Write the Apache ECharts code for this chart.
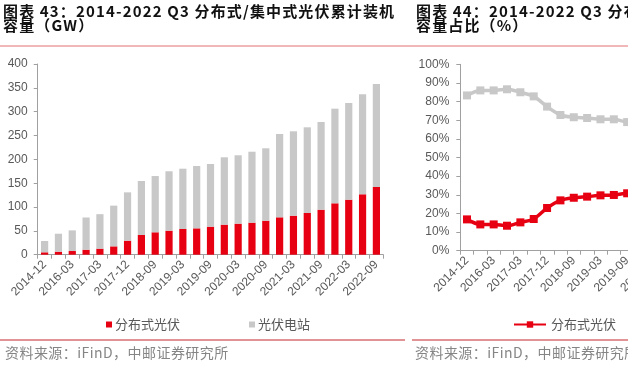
<!DOCTYPE html>
<html><head><meta charset="utf-8">
<script src="https://cdn.jsdelivr.net/npm/echarts@6/dist/echarts.min.js"></script>
<style>html,body{margin:0;padding:0;background:#fff}#c{width:628px;height:368px}</style>
</head><body><div id="c"></div>
<script>
var categories = ['2014-12','2015-12','2016-03','2016-12','2017-03','2017-06','2017-12','2018-06','2018-09','2018-12','2019-03','2019-06','2019-09','2019-12','2020-03','2020-06','2020-09','2020-12','2021-03','2021-06','2021-09','2021-12','2022-03','2022-06','2022-09'];
var distributedGW = [5, 6.3, 7.7, 10.5, 12.7, 17.5, 29.4, 41.3, 47, 50.4, 53.9, 55.3, 58.8, 63, 65.1, 67.2, 71.3, 78.4, 81.8, 87.5, 94.4, 107.8, 115.4, 126.7, 142];
var stationGW = [23.7, 37.7, 43.3, 67.5, 72.3, 85.4, 101.4, 113.3, 118, 124.6, 126.5, 130.7, 131.5, 141.3, 143.4, 148.8, 151.9, 174.8, 177, 179.7, 184, 198.5, 202.8, 209.8, 216];
var distributedPct = [16.8, 14.1, 14.1, 13.4, 15.2, 17, 22.9, 27, 28.4, 29, 29.7, 29.9, 30.8, 30.8, 31.2, 31.1, 31.9, 31, 31.6, 32.7, 33.9, 35.2, 36.3, 37.7, 39.7];
var stationPct = [83.3, 86, 86, 86.6, 85, 82.8, 77.3, 72.8, 71.6, 71.2, 70.5, 70.5, 69, 69.2, 68.8, 68.9, 68.1, 69, 68.4, 67.3, 66.1, 64.8, 63.7, 62.3, 60.3];
var leftTicks = [0, 50, 100, 150, 200, 250, 300, 350, 400];
var rightTicks = [0, 10, 20, 30, 40, 50, 60, 70, 80, 90, 100];

var RED = '#E60012', GRAY = '#C8C8C8';
var AX = '#A0A0A0', LBL = '#595959';
var FONT = '"Liberation Sans", Arial, "Noto Sans CJK SC", sans-serif';
var CJK = '"Noto Sans CJK SC", sans-serif';

function spaced(s) {
  return s.split('').map(function (ch) { return '{c|' + ch + '}'; }).join('');
}
function titleText(s, x, y) {
  return {type: 'text', x: x, y: y, style: {
    text: spaced(s), verticalAlign: 'middle',
    rich: {c: {fontSize: 15, fontWeight: 'bold', fontFamily: CJK, fill: '#111', padding: [0, 1.15, 0, 0]}}
  }};
}
function sourceText(s, x, y) {
  return {type: 'text', x: x, y: y, style: {
    text: spaced(s), verticalAlign: 'middle',
    rich: {c: {fontSize: 14, fontFamily: CJK, fill: '#858585', padding: [0, 0.45, 0, 0]}}
  }};
}

function xAxis(gi) {
  return {
    type: 'category', gridIndex: gi, data: categories,
    axisLine: {lineStyle: {color: AX, width: 1}},
    axisTick: {show: true, interval: 0, length: 4, lineStyle: {color: AX}},
    axisLabel: {interval: 1, rotate: 45, color: LBL, fontSize: 12, fontFamily: FONT, margin: 8}
  };
}
function yAxis(gi, ticks, fmt, margin) {
  return {
    type: 'value', gridIndex: gi, min: ticks[0], max: ticks[ticks.length - 1],
    interval: ticks[1] - ticks[0],
    axisLine: {show: true, lineStyle: {color: AX, width: 1}},
    axisTick: {show: true, length: 4, lineStyle: {color: AX}},
    splitLine: {show: false},
    axisLabel: {color: LBL, fontSize: 12, fontFamily: FONT, margin: margin, formatter: fmt}
  };
}

var chart = echarts.init(document.getElementById('c'), null, {renderer: 'canvas'});
chart.setOption({
  animation: false,
  backgroundColor: '#fff',
  grid: [
    {left: 37.7, top: 64, width: 345.6, height: 190.7, containLabel: false, outerBoundsMode: 'none'},
    {left: 460.3, top: 64.3, width: 333.75, height: 186.4, containLabel: false, outerBoundsMode: 'none'}
  ],
  xAxis: [xAxis(0), xAxis(1)],
  yAxis: [yAxis(0, leftTicks, '{value}', 10), yAxis(1, rightTicks, '{value}%', 11)],
  legend: [
    {left: 101, top: 313, itemWidth: 6, itemHeight: 6, itemGap: 69, icon: 'rect',
     textStyle: {fontSize: 13, color: LBL, fontFamily: CJK, padding: [0, 0, 0, -2]},
     data: ['分布式光伏', '光伏电站']},
    {left: 508, top: 313, itemWidth: 32, itemHeight: 8, itemGap: 70,
     textStyle: {fontSize: 13, color: LBL, fontFamily: CJK},
     formatter: function (n) { return n.replace('占比', ''); },
     data: ['分布式光伏占比', '光伏电站占比']}
  ],
  series: [
    {name: '分布式光伏', type: 'bar', stack: 'a', xAxisIndex: 0, yAxisIndex: 0,
     barWidth: 7.2, itemStyle: {color: RED}, data: distributedGW},
    {name: '光伏电站', type: 'bar', stack: 'a', xAxisIndex: 0, yAxisIndex: 0,
     barWidth: 7.2, itemStyle: {color: GRAY}, data: stationGW},
    {name: '分布式光伏占比', type: 'line', xAxisIndex: 1, yAxisIndex: 1, smooth: 0.3,
     symbol: 'rect', symbolSize: 8, showSymbol: true,
     lineStyle: {color: RED, width: 3.5}, itemStyle: {color: RED}, data: distributedPct},
    {name: '光伏电站占比', type: 'line', xAxisIndex: 1, yAxisIndex: 1, smooth: 0.3,
     symbol: 'rect', symbolSize: 8, showSymbol: true,
     lineStyle: {color: GRAY, width: 3.5}, itemStyle: {color: GRAY}, data: stationPct}
  ],
  graphic: [
    titleText('图表 43：2014-2022 Q3 分布式/集中式光伏累计装机', 3, 11),
    titleText('容量（GW）', 3, 25.5),
    titleText('图表 44：2014-2022 Q3 分布式/集中式光伏累计装机', 416, 11),
    titleText('容量占比（%）', 416, 25.5),
    {type: 'line', shape: {x1: 0, y1: 46, x2: 628, y2: 46}, style: {stroke: '#E07070', lineWidth: 1}},
    {type: 'line', shape: {x1: 0, y1: 340, x2: 405, y2: 340}, style: {stroke: '#C0282D', lineWidth: 1}},
    {type: 'line', shape: {x1: 412, y1: 340, x2: 628, y2: 340}, style: {stroke: '#C0282D', lineWidth: 1}},
    sourceText('资料来源：iFinD，中邮证券研究所', 5, 353),
    sourceText('资料来源：iFinD，中邮证券研究所', 415, 353)
  ]
});
</script></body></html>
